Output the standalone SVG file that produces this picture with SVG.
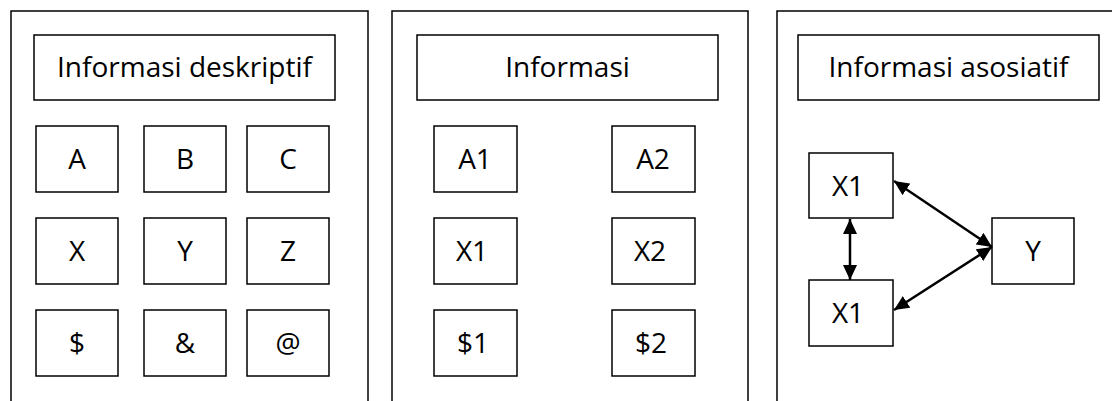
<svg xmlns="http://www.w3.org/2000/svg" width="1112" height="401" viewBox="0 0 1112 401">
<defs>
<style>
.panel{fill:none;stroke:#000;stroke-width:1.5}
.box{fill:#fff;stroke:#000;stroke-width:1.5}
.t{font-family:"Open Sans","Noto Sans",sans-serif;font-size:28px;fill:#000;text-anchor:middle}
.c{stroke:#000;stroke-width:2.5;fill:none;marker-start:url(#ah);marker-end:url(#ah)}
</style>
<marker id="ah" viewBox="0 0 15 14" refX="15" refY="7" markerWidth="15" markerHeight="14" markerUnits="userSpaceOnUse" orient="auto-start-reverse">
<path d="M0,0 L15,7 L0,14 Z" fill="#000"/>
</marker>
</defs>
<rect width="1112" height="401" fill="#fff"/>
<g id="panel-deskriptif">
<path class="panel" d="M11,402 V11 H368 V402"/>
<g id="title-deskriptif"><rect class="box" x="34" y="35" width="301" height="65"/><text class="t" x="184.5" y="77">Informasi deskriptif</text></g>
<g id="d-A"><rect class="box" x="36" y="126" width="82" height="66"/><text class="t" x="77" y="169">A</text></g>
<g id="d-B"><rect class="box" x="144" y="126" width="82" height="66"/><text class="t" x="185" y="169">B</text></g>
<g id="d-C"><rect class="box" x="247" y="126" width="82" height="66"/><text class="t" x="288" y="169">C</text></g>
<g id="d-X"><rect class="box" x="36" y="218" width="82" height="66"/><text class="t" x="77" y="261">X</text></g>
<g id="d-Y"><rect class="box" x="144" y="218" width="82" height="66"/><text class="t" x="185" y="261">Y</text></g>
<g id="d-Z"><rect class="box" x="247" y="218" width="82" height="66"/><text class="t" x="288" y="261">Z</text></g>
<g id="d-dollar"><rect class="box" x="36" y="310" width="82" height="66"/><text class="t" x="77" y="353">$</text></g>
<g id="d-amp"><rect class="box" x="144" y="310" width="82" height="66"/><text class="t" x="185" y="353">&amp;</text></g>
<g id="d-at"><rect class="box" x="247" y="310" width="82" height="66"/><text class="t" x="288" y="353">@</text></g>
</g>
<g id="panel-informasi">
<path class="panel" d="M392,402 V11 H748 V402"/>
<g id="title-informasi"><rect class="box" x="417" y="35" width="301" height="65"/><text class="t" x="567.5" y="77">Informasi</text></g>
<g id="i-A1"><rect class="box" x="434" y="126" width="83" height="66"/><text class="t" x="475" y="169">A1</text></g>
<g id="i-A2"><rect class="box" x="612" y="126" width="83" height="66"/><text class="t" x="653" y="169">A2</text></g>
<g id="i-X1"><rect class="box" x="434" y="218" width="83" height="66"/><text class="t" x="472" y="261">X1</text></g>
<g id="i-X2"><rect class="box" x="612" y="218" width="83" height="66"/><text class="t" x="650" y="261">X2</text></g>
<g id="i-S1"><rect class="box" x="434" y="310" width="83" height="66"/><text class="t" x="473" y="353">$1</text></g>
<g id="i-S2"><rect class="box" x="612" y="310" width="83" height="66"/><text class="t" x="651" y="353">$2</text></g>
</g>
<g id="panel-asosiatif">
<path class="panel" d="M777,402 V11 H1114"/>
<g id="title-asosiatif"><rect class="box" x="798" y="35" width="301" height="65"/><text class="t" x="948.5" y="77">Informasi asosiatif</text></g>
<g id="a-X1-top"><rect class="box" x="809" y="153" width="84" height="65"/><text class="t" x="848" y="196">X1</text></g>
<g id="a-X1-bottom"><rect class="box" x="809" y="280" width="84" height="66"/><text class="t" x="848" y="323">X1</text></g>
<g id="a-Y"><rect class="box" x="992" y="218" width="82" height="66"/><text class="t" x="1033" y="261">Y</text></g>
</g>
<g id="connectors">
<line class="c" x1="850" y1="219" x2="850" y2="280"/>
<line class="c" x1="894" y1="181" x2="992" y2="247"/>
<line class="c" x1="894" y1="310" x2="992" y2="247"/>
</g>
</svg>
